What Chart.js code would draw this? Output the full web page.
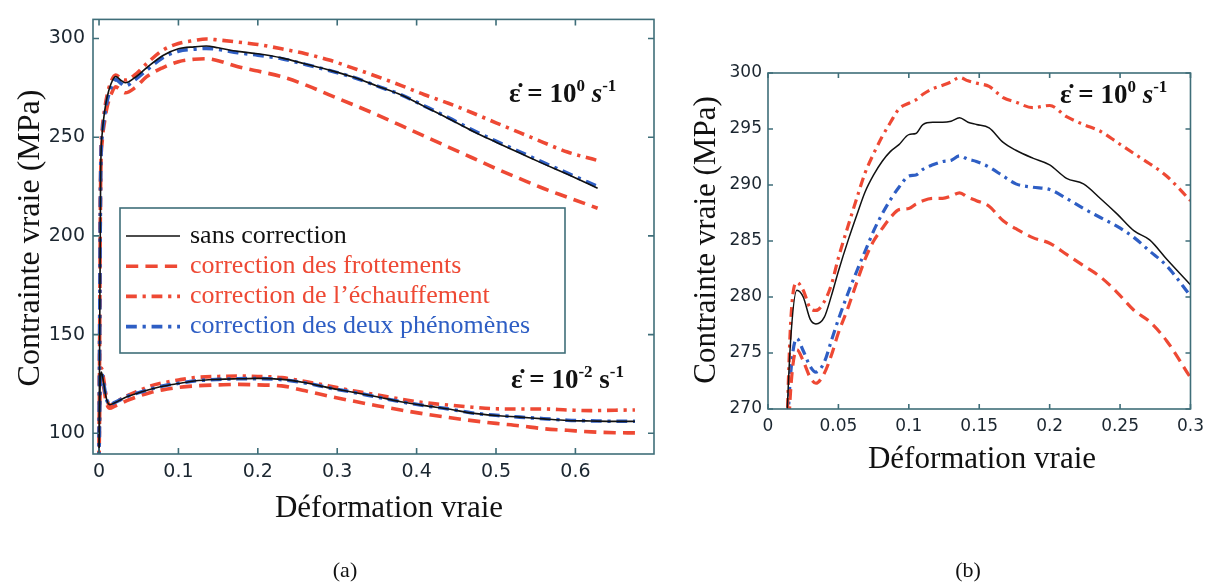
<!DOCTYPE html>
<html><head><meta charset="utf-8">
<script src="https://cdn.jsdelivr.net/npm/chart.js@4/dist/chart.umd.min.js"></script>
<style>
html,body{margin:0;padding:0;background:#fff;}
#wrap{position:relative;width:1211px;height:583px;overflow:hidden;background:#fff;}
canvas{position:absolute;top:0;}
</style></head><body>
<div id="wrap">
<canvas id="ca" width="660" height="583" style="left:0"></canvas>
<canvas id="cb" width="551" height="583" style="left:660px"></canvas>
</div>
<script>
// ---------- DATA: chart (a) ----------
const seriesLabels = ['sans correction', 'correction des frottements', "correction de l’échauffement", 'correction des deux phénomènes'];

// strain rate 10^0 s^-1
const aHiX        = [0, 0.002, 0.004, 0.007, 0.01, 0.015, 0.021, 0.027, 0.033, 0.045, 0.06, 0.08, 0.1, 0.12, 0.135, 0.15, 0.175, 0.2, 0.23, 0.26, 0.29, 0.32, 0.35, 0.38, 0.41, 0.44, 0.47, 0.5, 0.53, 0.56, 0.59, 0.628];
const aHiSans     = [85, 230, 252, 263, 270, 277, 280.8, 279, 277.6, 280.2, 285.2, 291.3, 294.8, 295.8, 296.2, 295.3, 293.5, 292.3, 290.2, 287.1, 284, 280.5, 276, 271.5, 265.5, 259.5, 253.2, 247.5, 242, 236.5, 231.2, 224.2];
const aHiFrott    = [85, 226, 248, 258, 265, 271.5, 275.5, 274, 272.5, 275, 280.7, 285.2, 288.3, 289.5, 289.8, 288.8, 285.7, 283.5, 280.7, 276.5, 271.5, 266.5, 261.4, 256, 250.5, 245, 239.6, 234.1, 229, 224, 219.6, 214];
const aHiEchauf   = [85, 232, 254, 264, 271, 278, 281.5, 280, 279, 281.5, 287.3, 294, 297.5, 299, 299.8, 299.3, 298.2, 297, 294.8, 292.3, 289.1, 285, 280.8, 276.3, 271.5, 267.2, 262.4, 257.3, 252.3, 247.3, 242.5, 238.2];
const aHiDeux     = [85, 229, 251, 261, 268, 275, 279.2, 277.5, 276, 279, 284, 290.2, 293.6, 294.6, 295, 294.5, 292.8, 291.6, 289.8, 286.9, 283.8, 280.4, 276, 271.6, 265.8, 259.9, 253.7, 248, 242.6, 237.1, 231.8, 225];

// strain rate 10^-2 s^-1
const aLoX        = [0, 0.001, 0.003, 0.006, 0.009, 0.0135, 0.02, 0.035, 0.05, 0.065, 0.08, 0.1, 0.12, 0.15, 0.175, 0.2, 0.23, 0.26, 0.29, 0.32, 0.35, 0.38, 0.41, 0.44, 0.47, 0.5, 0.53, 0.56, 0.59, 0.62, 0.65, 0.675];
const aLoSans     = [85, 118, 131, 125, 118, 114.5, 115.5, 118.5, 120.5, 122.3, 123.8, 125.2, 126.5, 127.3, 127.6, 127.8, 127.3, 125.6, 123, 120.8, 118.5, 116, 114, 112.3, 110.2, 109, 108.2, 107.3, 106.5, 106.2, 106, 106];
const aLoFrott    = [85, 116, 129, 123, 116, 112.7, 113.8, 116.5, 118.8, 120.7, 122, 123.2, 124, 124.5, 124.8, 124.5, 124, 121.5, 118.8, 116.3, 114, 111.8, 109.8, 108, 106.4, 105, 103.8, 102.3, 101.5, 100.7, 100.3, 100.2];
const aLoEchauf   = [85, 120, 133, 127, 119, 114, 115.5, 119, 121.5, 124, 125.5, 127, 128.2, 128.8, 129, 128.8, 128.2, 126.2, 124, 121.5, 119.5, 117.3, 115.5, 114.3, 113.2, 112.4, 112.3, 112.3, 111.8, 111.5, 111.7, 111.8];
const aLoDeux     = [85, 118, 131, 125, 118, 114.5, 115.6, 118.6, 120.6, 122.4, 123.9, 125.3, 126.5, 127.3, 127.6, 127.7, 127.2, 125.5, 123, 120.8, 118.4, 116, 114, 112.3, 110.3, 109.1, 108.2, 107.4, 106.6, 106.3, 106.1, 106.1];

const aXTicks = { min: -0.0076, max: 0.699, step: 0.1 };
const aYTicks = { min: 89.5, max: 309.7, step: 50 };

// ---------- DATA: chart (b), 10^0 s^-1 zoom ----------
const bX       = [0.012, 0.016, 0.0205, 0.025, 0.03, 0.034, 0.04, 0.045, 0.05, 0.057, 0.063, 0.069, 0.075, 0.081, 0.087, 0.093, 0.1, 0.105, 0.11, 0.117, 0.124, 0.13, 0.136, 0.142, 0.148, 0.157, 0.167, 0.176, 0.188, 0.2, 0.212, 0.224, 0.236, 0.248, 0.26, 0.271, 0.283, 0.3];
const bSans    = [265, 276, 280.6, 280, 278, 277.6, 278.2, 280.1, 282.3, 285.1, 287.3, 289.4, 290.9, 292.1, 293, 293.6, 294.5, 294.6, 295.4, 295.6, 295.6, 295.7, 296.0, 295.6, 295.4, 295.1, 293.8, 293.1, 292.4, 291.8, 290.6, 290.1, 288.8, 287.4, 285.9, 285.1, 283.4, 281.1];
const bFrott   = [260, 271.5, 275.3, 274.3, 272.8, 272.3, 273.2, 274.8, 276.8, 279.1, 281.3, 283.4, 285, 286.1, 287.1, 287.8, 287.9, 288.3, 288.6, 288.8, 288.8, 289, 289.3, 288.9, 288.6, 288.1, 286.8, 286.1, 285.3, 284.8, 283.8, 282.8, 281.8, 280.4, 278.8, 277.8, 276.1, 272.8];
const bEchauf  = [262, 277.5, 281.3, 280.6, 279, 278.8, 279.6, 281.1, 283.5, 286.4, 288.8, 291.1, 292.8, 294.3, 295.6, 296.8, 297.3, 297.6, 298.1, 298.6, 298.9, 299.2, 299.6, 299.3, 299.1, 298.8, 297.8, 297.4, 296.9, 297.1, 296.1, 295.4, 294.8, 293.8, 292.8, 291.9, 290.8, 288.6];
const bDeux    = [263, 273, 276.3, 275.2, 273.8, 273.3, 274.2, 276.1, 278, 280.4, 282.3, 284.1, 285.9, 287.4, 288.7, 289.8, 290.8, 290.9, 291.4, 291.8, 292.1, 292.2, 292.6, 292.3, 292.1, 291.6, 290.8, 290.1, 289.8, 289.6, 288.8, 287.9, 287.1, 286.3, 285.3, 284.1, 282.8, 280.1];

const bXTicks = { min: 0, max: 0.3, step: 0.05 };
const bYTicks = { min: 270, max: 300, step: 5 };

// ---------- STYLES ----------
const RED = '#ee4934', BLUE = '#2e5ec4', BLACK = '#111111';
const FRAME = '#3f6e79', TICKTXT = '#1b2630';
const SERIF = '"Liberation Serif"';

function pts(xs, ys) { return xs.map((x, i) => ({ x: x, y: ys[i] })); }
function fmt(v) { return String(parseFloat(Number(v).toFixed(3))); }

function styles(w) {
  return {
    sans:   { borderColor: BLACK, borderWidth: Math.max(1.5, w * 0.45) },
    frott:  { borderColor: RED,   borderWidth: w, borderDash: [w * 3.4, w * 2] },
    echauf: { borderColor: RED,   borderWidth: w, borderDash: [w * 3, w * 1.6, w * 0.9, w * 1.6] },
    deux:   { borderColor: BLUE,  borderWidth: w, borderDash: [w * 3, w * 1.6, w * 0.9, w * 1.6] }
  };
}
function ds(label, data, st) {
  return Object.assign({ label: label, data: data, pointRadius: 0, fill: false,
    cubicInterpolationMode: 'monotone', borderCapStyle: 'butt' }, st);
}

// frame + inward ticks on four sides
function framePlugin(len) {
  return {
    id: 'frameTicks',
    afterDatasetsDraw(chart) {
      const { ctx, chartArea: a } = chart;
      const x = chart.scales.x, y = chart.scales.y;
      ctx.save();
      ctx.strokeStyle = FRAME; ctx.lineWidth = 1.6;
      ctx.strokeRect(a.left, a.top, a.right - a.left, a.bottom - a.top);
      ctx.beginPath();
      x.ticks.forEach(t => {
        const p = x.getPixelForValue(t.value);
        ctx.moveTo(p, a.bottom); ctx.lineTo(p, a.bottom - len);
        ctx.moveTo(p, a.top); ctx.lineTo(p, a.top + len);
      });
      y.ticks.forEach(t => {
        const p = y.getPixelForValue(t.value);
        ctx.moveTo(a.left, p); ctx.lineTo(a.left + len, p);
        ctx.moveTo(a.right, p); ctx.lineTo(a.right - len, p);
      });
      ctx.stroke();
      ctx.restore();
    }
  };
}

// free text (axis titles, captions, rate annotations)
function textPlugin(items) {
  return {
    id: 'texts',
    afterDraw(chart) {
      const ctx = chart.ctx;
      items.forEach(it => {
        ctx.save();
        ctx.translate(it.x, it.y);
        if (it.rot) ctx.rotate(it.rot);
        ctx.textBaseline = 'alphabetic';
        ctx.textAlign = 'left';
        let w = 0;
        it.runs.forEach(r => { ctx.font = r.font; w += ctx.measureText(r.text).width; });
        let cx = it.align === 'center' ? -w / 2 : 0;
        it.runs.forEach(r => {
          ctx.font = r.font;
          ctx.fillStyle = r.color || '#111';
          ctx.fillText(r.text, cx, r.dy || 0);
          cx += ctx.measureText(r.text).width;
        });
        ctx.restore();
      });
    }
  };
}

function rateRuns(exp, size, italicS) {
  const big = 'bold ' + size + 'px ' + SERIF;
  const sm = 'bold ' + Math.round(size * 0.62) + 'px ' + SERIF;
  const sF = (italicS ? 'italic ' : '') + 'bold ' + size + 'px ' + SERIF;
  const up = -size * 0.4;
  return [
    { font: big, text: 'ε̇ = 10' },
    { font: sm, text: exp, dy: up },
    { font: sF, text: ' s' },
    { font: sm, text: '-1', dy: up }
  ];
}

// legend box drawn from datasets' own styles
function legendPlugin(box) {
  return {
    id: 'boxLegend',
    afterDraw(chart) {
      const ctx = chart.ctx;
      ctx.save();
      ctx.fillStyle = '#fff';
      ctx.fillRect(box.l, box.t, box.r - box.l, box.b - box.t);
      ctx.strokeStyle = FRAME; ctx.lineWidth = 1.6;
      ctx.strokeRect(box.l, box.t, box.r - box.l, box.b - box.t);
      const txtCol = [BLACK, RED, RED, BLUE];
      for (let i = 0; i < seriesLabels.length; i++) {
        const d = chart.data.datasets[i];
        const yy = box.firstY + i * box.gap;
        ctx.save();
        ctx.strokeStyle = d.borderColor;
        ctx.lineWidth = d.borderWidth;
        ctx.setLineDash(d.borderDash || []);
        ctx.beginPath(); ctx.moveTo(box.l + 6, yy); ctx.lineTo(box.l + 60, yy); ctx.stroke();
        ctx.restore();
        ctx.font = box.font;
        ctx.fillStyle = txtCol[i];
        ctx.textBaseline = 'middle';
        ctx.fillText(seriesLabels[i], box.l + 70, yy);
      }
      ctx.restore();
    }
  };
}

function scaleOpts(t, fontSize, pad, fitProp, fitVal) {
  return {
    type: 'linear', min: t.min, max: t.max,
    afterFit: s => { s[fitProp] = fitVal; },
    grid: { display: false, drawTicks: false },
    border: { display: false },
    ticks: { stepSize: t.step, includeBounds: false, autoSkip: false, maxRotation: 0,
      padding: pad, color: TICKTXT, font: { family: 'DejaVu Sans', size: fontSize },
      callback: v => fmt(v) }
  };
}

// ---------- CHART (a) ----------
const sa = styles(3.6);
const dataA = [
  ds(seriesLabels[0], pts(aHiX, aHiSans), sa.sans),
  ds(seriesLabels[1], pts(aHiX, aHiFrott), sa.frott),
  ds(seriesLabels[2], pts(aHiX, aHiEchauf), sa.echauf),
  ds(seriesLabels[3], pts(aHiX, aHiDeux), sa.deux),
  ds(seriesLabels[0] + ' (10^-2)', pts(aLoX, aLoSans), sa.sans),
  ds(seriesLabels[1] + ' (10^-2)', pts(aLoX, aLoFrott), sa.frott),
  ds(seriesLabels[2] + ' (10^-2)', pts(aLoX, aLoEchauf), sa.echauf),
  ds(seriesLabels[3] + ' (10^-2)', pts(aLoX, aLoDeux), sa.deux)
];
dataA.forEach((d, i) => { d.order = (i % 4 === 0) ? 0 : (i % 4 === 3 ? 1 : 2); });

new Chart(document.getElementById('ca'), {
  type: 'line',
  data: { datasets: dataA },
  options: {
    responsive: false, animation: false, events: [],
    layout: { padding: { top: 14, right: 6, left: 0, bottom: 0 } },
    plugins: { legend: { display: false }, tooltip: { enabled: false } },
    scales: {
      x: scaleOpts(aXTicks, 19, 7, 'height', 129),
      y: scaleOpts(aYTicks, 19, 8, 'width', 93)
    }
  },
  plugins: [
    framePlugin(6),
    legendPlugin({ l: 120, t: 208, r: 565, b: 353, firstY: 236, gap: 30.2, font: '26px ' + SERIF }),
    textPlugin([
      { x: 39, y: 238, rot: -Math.PI / 2, align: 'center', runs: [{ font: '32px ' + SERIF, text: 'Contrainte vraie (MPa)' }] },
      { x: 389, y: 517, align: 'center', runs: [{ font: '31px ' + SERIF, text: 'Déformation vraie' }] },
      { x: 345, y: 577, align: 'center', runs: [{ font: '22px ' + SERIF, text: '(a)' }] },
      { x: 509, y: 102, runs: rateRuns('0', 27, true) },
      { x: 511, y: 388, runs: rateRuns('-2', 27, false) }
    ])
  ]
});

// ---------- CHART (b) ----------
const sb = styles(3.2);
const dataB = [
  ds(seriesLabels[0], pts(bX, bSans), sb.sans),
  ds(seriesLabels[1], pts(bX, bFrott), sb.frott),
  ds(seriesLabels[2], pts(bX, bEchauf), sb.echauf),
  ds(seriesLabels[3], pts(bX, bDeux), sb.deux)
];
new Chart(document.getElementById('cb'), {
  type: 'line',
  data: { datasets: dataB },
  options: {
    responsive: false, animation: false, events: [],
    layout: { padding: { top: 73, right: 18, left: 0, bottom: 0 } },
    plugins: { legend: { display: false }, tooltip: { enabled: false } },
    scales: {
      x: scaleOpts(bXTicks, 17, 7, 'height', 174),
      y: scaleOpts(bYTicks, 17, 6, 'width', 108)
    }
  },
  plugins: [
    framePlugin(5),
    textPlugin([
      { x: 55, y: 240, rot: -Math.PI / 2, align: 'center', runs: [{ font: '31px ' + SERIF, text: 'Contrainte vraie (MPa)' }] },
      { x: 322, y: 468, align: 'center', runs: [{ font: '31px ' + SERIF, text: 'Déformation vraie' }] },
      { x: 308, y: 577, align: 'center', runs: [{ font: '22px ' + SERIF, text: '(b)' }] },
      { x: 400, y: 103, runs: rateRuns('0', 27, true) }
    ])
  ]
});
</script>
</body></html>
